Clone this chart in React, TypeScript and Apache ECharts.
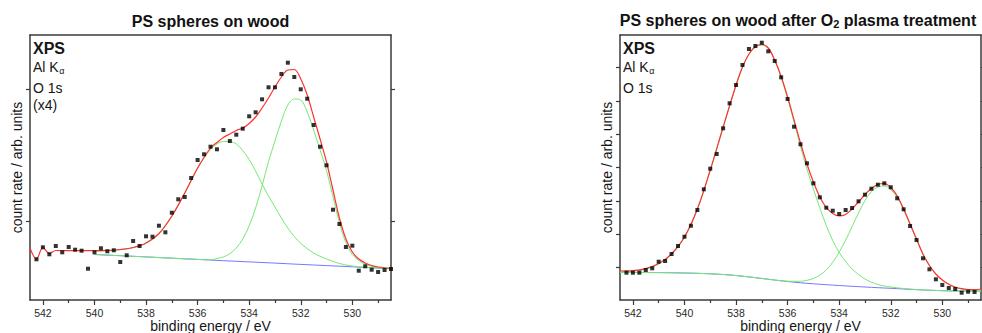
import React, { useEffect, useRef } from "react";
import * as echarts from "echarts";

const FONT = "'Liberation Sans', Arial, Helvetica, sans-serif";
const AXIS_COLOR = "#3a3a3a";
const TEXT_COLOR = "#151515";
const RED = "#ff3030";
const GREEN = "#74e874";
const BLUE = "#7676ff";

// ---- axis ticks ----
const xTickLabels = [542, 540, 538, 536, 534, 532, 530];
const xMinorTicks = [541, 539, 537, 535, 533, 531, 529];
const leftYTicks = [78, 210];
const rightYTicks = [32.3, 65.7, 99, 132.4, 165.8, 199.2, 232.6];

// ---- left panel: PS spheres on wood ----
const leftPointE = [542.25, 542.0, 541.75, 541.5, 541.25, 541.0, 540.75, 540.5, 540.25, 540.0, 539.75, 539.5, 539.25, 539.0, 538.75, 538.5, 538.25, 538.0, 537.75, 537.5, 537.25, 537.0, 536.75, 536.5, 536.25, 536.0, 535.75, 535.5, 535.25, 535.0, 534.75, 534.5, 534.25, 534.0, 533.75, 533.5, 533.25, 533.0, 532.75, 532.5, 532.25, 532.0, 531.75, 531.5, 531.25, 531.0, 530.75, 530.5, 530.25, 530.0, 529.75, 529.5, 529.25, 529.0, 528.75, 528.5];
const leftPointY = [39.7, 51.7, 44.7, 53, 46.7, 52, 49.3, 48.3, 30.3, 46.7, 50.7, 47.7, 48.7, 37, 43.7, 58, 53, 62.7, 62.3, 73.3, 66.7, 86.3, 99.7, 102, 121, 139, 144.7, 152.3, 149.7, 169, 158, 164.3, 170.3, 182.7, 186.7, 199.7, 211.7, 211.7, 225, 236.3, 222, 209.7, 200.3, 174, 152.3, 133.7, 89.3, 75, 52, 53.3, 28.3, 32.7, 29.3, 27, 29, 30];

const leftFitE = [542.5, 542.25, 542.0, 541.75, 541.5, 541.0, 540.5, 540.0, 539.5, 539.0, 538.5, 538.0, 537.5, 537.0, 536.5, 536.0, 535.5, 535.25, 535.0, 534.75, 534.5, 534.25, 534.0, 533.75, 533.5, 533.25, 533.0, 532.75, 532.5, 532.25, 532.0, 531.75, 531.5, 531.25, 531.0, 530.75, 530.5, 530.25, 530.0, 529.75, 529.5, 529.25, 529.0, 528.5];
const leftFitY = [51, 40, 51.5, 45.5, 48.5, 48.3, 48.3, 48.3, 48.6, 49.5, 51.5, 56, 65.5, 83, 106, 131, 151, 156.5, 161.5, 165, 168.5, 171, 175.5, 182, 191, 201, 212, 222, 229, 229.5, 220, 204, 182, 160, 137, 109, 81, 60, 47, 40, 36, 33.5, 32, 30.5];

const leftPeakAE = [540, 539.5, 539, 538.5, 538, 537.5, 537, 536.5, 536, 535.75, 535.5, 535.25, 535, 534.75, 534.5, 534.25, 534, 533.75, 533.5, 533.25, 533, 532.75, 532.5, 532.25, 532, 531.5, 531, 530.5, 530, 529.5, 529, 528.5];
const leftPeakAY = [47.8, 48.2, 49.2, 51.2, 55.6, 65, 82.5, 105.5, 130.5, 141, 149.5, 155, 157.5, 157.5, 155, 148.5, 139.5, 128, 115, 103, 92, 81, 71, 62.5, 55.5, 46, 40, 35.5, 33, 31.8, 31, 30.4];

const leftPeakBE = [540, 539, 538, 537, 536, 535.5, 535.25, 535, 534.75, 534.5, 534.25, 534, 533.75, 533.5, 533.25, 533, 532.75, 532.5, 532.25, 532, 531.75, 531.5, 531.25, 531, 530.75, 530.5, 530.25, 530, 529.75, 529.5, 529.25, 529, 528.75, 528.5];
const leftPeakBY = [44.5, 43.3, 42.1, 40.8, 39.6, 39.1, 40.5, 42.1, 45.3, 51, 60, 73.2, 91.1, 113, 137.5, 158, 178, 194, 200, 199, 187, 169, 149, 128.5, 102.5, 76, 56.5, 44.5, 38.5, 34.7, 32.7, 31.5, 31, 30.4];

const leftBackE = [540, 539, 538, 537, 536, 535, 534, 533, 532, 531, 530, 529, 528.5];
const leftBackY = [44.5, 43.3, 42.1, 40.8, 39.6, 38.3, 37.1, 35.9, 34.6, 33.4, 32.2, 30.9, 30.3];

// ---- right panel: after O2 plasma treatment ----
const rightPointE = [542.25, 542.0, 541.75, 541.5, 541.25, 541.0, 540.75, 540.5, 540.25, 540.0, 539.75, 539.5, 539.25, 539.0, 538.75, 538.5, 538.25, 538.0, 537.75, 537.5, 537.25, 537.0, 536.75, 536.5, 536.25, 536.0, 535.75, 535.5, 535.25, 535.0, 534.75, 534.5, 534.25, 534.0, 533.75, 533.5, 533.25, 533.0, 532.75, 532.5, 532.25, 532.0, 531.75, 531.5, 531.25, 531.0, 530.75, 530.5, 530.25, 530.0, 529.75, 529.5, 529.25, 529.0, 528.75];
const rightPointY = [27.3, 27.3, 27.3, 30, 31.7, 38.3, 39, 46, 54, 63.3, 74.3, 90, 110.7, 131.3, 146, 171.7, 196.7, 215, 235, 251, 254, 257.3, 248.7, 239, 222.7, 201, 173.3, 155.7, 136.7, 116.7, 102.7, 92.3, 89.3, 86, 90, 92, 98.7, 105.3, 111.3, 115.3, 116.7, 112.7, 101.7, 90.7, 74, 60, 41.7, 30.7, 20.7, 15, 12, 11, 7.3, 8.3, 8];

const rightFitE = [542.5, 542.0, 541.5, 541.0, 540.5, 540.0, 539.5, 539.0, 538.5, 538.0, 537.75, 537.5, 537.25, 537.0, 536.75, 536.5, 536.25, 536.0, 535.75, 535.5, 535.25, 535.0, 534.75, 534.5, 534.25, 534.0, 533.75, 533.5, 533.25, 533.0, 532.75, 532.5, 532.25, 532.0, 531.75, 531.5, 531.25, 531.0, 530.75, 530.5, 530.25, 530.0, 529.75, 529.5, 529.25, 529.0, 528.75, 528.5];
const rightFitY = [29, 29.3, 31.3, 36.5, 46, 63, 91, 130, 173, 215, 233, 246, 253.5, 255.5, 252, 240, 223.5, 203, 180, 157, 136, 118, 103, 92.5, 86.5, 84, 85.5, 91, 98, 105.5, 111.5, 115.5, 116.5, 112.5, 104, 91, 76, 61, 46, 34.5, 26, 20, 15.8, 13, 11.3, 10.5, 10.3, 11];

const rightPeakAE = [542.5, 542.0, 541.5, 541.0, 540.5, 540.0, 539.5, 539.0, 538.5, 538.0, 537.75, 537.5, 537.25, 537.0, 536.75, 536.5, 536.25, 536.0, 535.75, 535.5, 535.25, 535.0, 534.75, 534.5, 534.25, 534.0, 533.75, 533.5, 533.0, 532.5, 532.0, 531.5, 531.0, 530.0, 529.0, 528.5];
const rightPeakAY = [28.3, 28.8, 30.8, 36, 45.5, 62.5, 90.5, 129.5, 172.5, 214.5, 232.5, 245.5, 253, 255, 251.5, 239.5, 222.5, 201.5, 178, 153.5, 131, 111, 92, 74.5, 59.5, 47.5, 38.5, 31, 21, 15.5, 13, 11.5, 10.5, 9.3, 9, 9];

const rightPeakBE = [542.5, 541, 540, 539, 538, 537, 536, 535.5, 535.25, 535, 534.75, 534.5, 534.25, 534, 533.75, 533.5, 533.25, 533, 532.75, 532.5, 532.25, 532, 531.75, 531.5, 531.25, 531, 530.75, 530.5, 530.25, 530, 529.75, 529.5, 529.25, 529, 528.75, 528.5];
const rightPeakBY = [27.5, 27.4, 27, 26.2, 24.5, 21.6, 18.8, 18.7, 19.7, 21.5, 24.9, 30.2, 37.7, 47.7, 59.9, 73.4, 87, 99.4, 108.4, 112.9, 114, 110.5, 102.5, 90, 75.3, 60.3, 45.5, 34.2, 25.8, 19.8, 15.6, 12.5, 11, 10, 9.5, 9.3];

const rightBackE = [542.5, 541, 540, 539, 538, 537, 536, 535.5, 535, 534.5, 534, 533.5, 533, 532.5, 532, 531.5, 531, 530.5, 530, 529.5, 529, 528.5];
const rightBackY = [27.5, 27.4, 27, 26.2, 24.5, 21.5, 18.5, 17.2, 16.2, 15.3, 14.5, 13.7, 13, 12.3, 11.7, 11, 10.3, 9.8, 9.3, 9, 9, 9];

// ---- texts ----
const xAxisName = "binding energy / eV";
const yAxisName = "count rate / arb. units";
const leftTitle = "PS spheres on wood";
const rightTitleA = "PS spheres on wood after O";
const rightTitleSub = "2";
const rightTitleB = " plasma treatment";
const leftNotes = ["O 1s", "(x4)"];
const rightNotes = ["O 1s"];

function pairs(xs: number[], ys: number[]) {
  return xs.map((x, i) => [x, ys[i]]);
}

function measure(text: string, font: string): number {
  const c = document.createElement("canvas").getContext("2d");
  if (!c) return text.length * 8;
  c.font = font;
  return c.measureText(text).width;
}

function xAxesFor(gridIndex: number) {
  const common = {
    type: "value",
    gridIndex,
    min: 528.5,
    max: 542.5,
    inverse: true,
    splitLine: { show: false },
  };
  return [
    {
      ...common,
      position: "bottom",
      axisLine: { show: true, onZero: false, lineStyle: { color: AXIS_COLOR, width: 1.5 } },
      axisTick: { show: true, length: 5, customValues: xTickLabels, lineStyle: { color: AXIS_COLOR, width: 1.2 } },
      axisLabel: { show: true, customValues: xTickLabels, fontSize: 10.5, lineHeight: 11, color: "#2a2a2a", margin: 7, fontFamily: FONT },
      name: xAxisName,
      nameLocation: "middle",
      nameGap: 18.5,
      nameMoveOverlap: false,
      nameTextStyle: { fontSize: 14, lineHeight: 14, color: TEXT_COLOR, fontFamily: FONT, verticalAlign: "top" },
    },
    {
      ...common,
      position: "bottom",
      axisLine: { show: false, onZero: false },
      axisTick: { show: true, length: 3, customValues: xMinorTicks, lineStyle: { color: AXIS_COLOR, width: 1.2 } },
      axisLabel: { show: false },
    },
    {
      ...common,
      position: "top",
      axisLine: { show: true, onZero: false, lineStyle: { color: AXIS_COLOR, width: 1.5 } },
      axisTick: { show: false },
      axisLabel: { show: false },
    },
  ];
}

function yAxesFor(gridIndex: number, min: number, max: number, ticks: number[]) {
  const common = {
    type: "value",
    gridIndex,
    min,
    max,
    splitLine: { show: false },
    axisLabel: { show: false },
    axisLine: { show: true, onZero: false, lineStyle: { color: AXIS_COLOR, width: 1.5 } },
    axisTick: { show: true, length: 4, customValues: ticks, lineStyle: { color: AXIS_COLOR, width: 1.2 } },
  };
  return [
    {
      ...common,
      position: "left",
      name: yAxisName,
      nameLocation: "middle",
      nameRotate: 90,
      nameGap: 6,
      nameMoveOverlap: false,
      nameTextStyle: { fontSize: 14, color: TEXT_COLOR, fontFamily: FONT },
    },
    { ...common, position: "right" },
  ];
}

function panelSeries(
  xIdx: number,
  yIdx: number,
  back: number[][],
  peakA: number[][],
  peakB: number[][],
  fit: number[][],
  points: number[][]
) {
  const line = (data: number[][], color: string, width: number, z: number) => ({
    type: "line",
    xAxisIndex: xIdx,
    yAxisIndex: yIdx,
    data,
    smooth: 0.35,
    showSymbol: false,
    symbol: "none",
    lineStyle: { color, width },
    z,
    silent: true,
  });
  return [
    line(back, BLUE, 1, 2),
    line(peakA, GREEN, 1, 3),
    line(peakB, GREEN, 1, 3),
    line(fit, RED, 1.2, 4),
    {
      type: "scatter",
      xAxisIndex: xIdx,
      yAxisIndex: yIdx,
      data: points,
      symbol: "rect",
      symbolSize: 4,
      itemStyle: { color: "#000" },
      z: 5,
      silent: true,
    },
  ];
}

function notes(x: number, lines: string[]) {
  const items: any[] = [];
  const textStyle = (text: string, size: number, weight: string, align = "left") => ({
    text,
    fontSize: size,
    fontWeight: weight,
    fontFamily: FONT,
    fill: TEXT_COLOR,
    align,
    textAlign: align,
    verticalAlign: "middle",
    textVerticalAlign: "middle",
  });
  items.push({ type: "text", x, y: 48, style: textStyle("XPS", 16, "bold") });
  const alK = "Al K";
  const wK = measure(alK, `14px ${FONT}`);
  items.push({ type: "text", x, y: 67, style: textStyle(alK, 14, "normal") });
  items.push({ type: "text", x: x + wK + 0.5, y: 71, style: textStyle("α", 9, "normal") });
  lines.forEach((t, i) => {
    items.push({ type: "text", x, y: 88 + i * 17, style: textStyle(t, 14, "normal") });
  });
  return items;
}

export default function App() {
  const ref = useRef<HTMLDivElement>(null);

  useEffect(() => {
    if (!ref.current) return;
    const chart = echarts.init(ref.current, null, { renderer: "svg", width: 982, height: 333 });

    const titleFont = `bold 16px ${FONT}`;
    const wA = measure(rightTitleA, titleFont);
    const wSub = measure(rightTitleSub, `bold 11px ${FONT}`);
    const wB = measure(rightTitleB, titleFont);
    const rightStart = 798 - (wA + wSub + wB) / 2;
    const titleStyle = (text: string, size: number, align: string) => ({
      text,
      fontSize: size,
      fontWeight: "bold",
      fontFamily: FONT,
      fill: "#111",
      align,
      textAlign: align,
      verticalAlign: "middle",
      textVerticalAlign: "middle",
    });

    const option: any = {
      animation: false,
      backgroundColor: "#fff",
      grid: [
        { left: 30, top: 35, width: 361, height: 265, containLabel: false, outerBoundsMode: "none" },
        { left: 620, top: 35, width: 361, height: 265, containLabel: false, outerBoundsMode: "none" },
      ],
      xAxis: [...xAxesFor(0), ...xAxesFor(1)],
      yAxis: [...yAxesFor(0, -1, 264, leftYTicks), ...yAxesFor(1, 0, 265, rightYTicks)],
      series: [
        ...panelSeries(
          0,
          0,
          pairs(leftBackE, leftBackY),
          pairs(leftPeakAE, leftPeakAY),
          pairs(leftPeakBE, leftPeakBY),
          pairs(leftFitE, leftFitY),
          pairs(leftPointE, leftPointY)
        ),
        ...panelSeries(
          3,
          2,
          pairs(rightBackE, rightBackY),
          pairs(rightPeakAE, rightPeakAY),
          pairs(rightPeakBE, rightPeakBY),
          pairs(rightFitE, rightFitY),
          pairs(rightPointE, rightPointY)
        ),
      ],
      graphic: [
        { type: "text", x: 210.5, y: 21.5, style: titleStyle(leftTitle, 16, "center") },
        { type: "text", x: rightStart, y: 20, style: titleStyle(rightTitleA, 16, "left") },
        { type: "text", x: rightStart + wA, y: 24, style: titleStyle(rightTitleSub, 11, "left") },
        { type: "text", x: rightStart + wA + wSub, y: 20, style: titleStyle(rightTitleB, 16, "left") },
        ...notes(33, leftNotes),
        ...notes(623, rightNotes),
      ],
    };

    chart.setOption(option);
    return () => {
      chart.dispose();
    };
  }, []);

  return (
    <div
      ref={ref}
      style={{ position: "absolute", left: 0, top: 0, width: 982, height: 333, background: "#fff" }}
    />
  );
}
